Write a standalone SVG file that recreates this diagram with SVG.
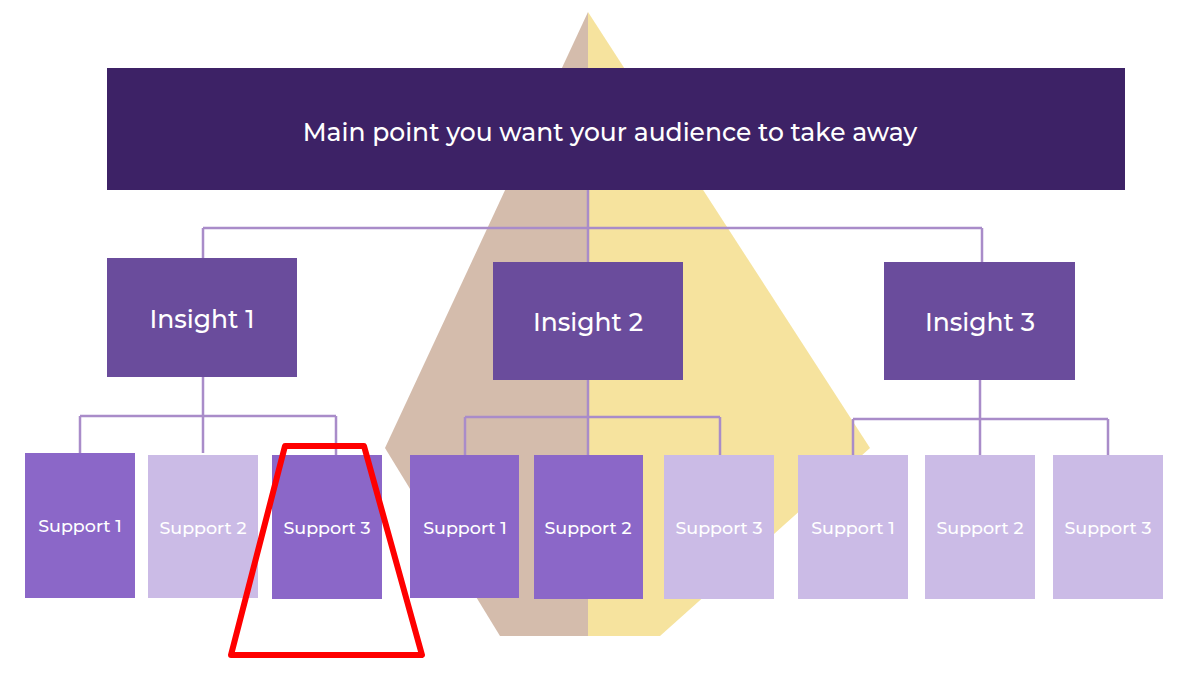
<svg xmlns="http://www.w3.org/2000/svg" width="1200" height="675" viewBox="0 0 1200 675">
<style>
text{font-family:"Montserrat","Open Sans","Liberation Sans",sans-serif;fill:#fff;text-anchor:middle;dominant-baseline:central;font-weight:500}
.main{font-size:25px}.ins{font-size:25px}.sup{font-size:17.5px}
.c{stroke:#a98cc9;stroke-width:2.5;fill:none}
.dark{fill:#8b67c8}.light{fill:#cbbbe6}.insb{fill:#6a4c9c}
</style>
<rect width="1200" height="675" fill="#fff"/>
<g id="pyramid">
<polygon points="588,12 385,448 500,636 588,636" fill="#d4bcac"/>
<polygon points="588,12 870,448 660,636 588,636" fill="#f6e39e"/>
</g>
<g id="connectors">
<path class="c" d="M588 190V262M203 228H982M203 228V258M982 228V262"/>
<path class="c" d="M203 377V453M80 416H336M80 416V455M336 416V455"/>
<path class="c" d="M588 380V455M465 417H720M465 417V455M720 417V455"/>
<path class="c" d="M980 380V455M853 419H1108M853 419V455M1108 419V455"/>
</g>
<g id="main"><rect x="107" y="68" width="1018" height="122" fill="#3d2266"/><text class="main" x="610" y="132">Main point you want your audience to take away</text></g>
<g id="insight1"><rect class="insb" x="107" y="258" width="190" height="119"/><text class="ins" x="202" y="319">Insight 1</text></g>
<g id="insight2"><rect class="insb" x="493" y="262" width="190" height="118"/><text class="ins" x="588" y="322">Insight 2</text></g>
<g id="insight3"><rect class="insb" x="884" y="262" width="191" height="118"/><text class="ins" x="980" y="322">Insight 3</text></g>
<g id="s1a"><rect class="dark" x="25" y="453" width="110" height="145"/><text class="sup" x="80" y="525">Support 1</text></g>
<g id="s1b"><rect class="light" x="148" y="455" width="110" height="143"/><text class="sup" x="203" y="527">Support 2</text></g>
<g id="s1c"><rect class="dark" x="272" y="455" width="110" height="144"/><text class="sup" x="327" y="527">Support 3</text></g>
<g id="s2a"><rect class="dark" x="410" y="455" width="109" height="143"/><text class="sup" x="465" y="527">Support 1</text></g>
<g id="s2b"><rect class="dark" x="534" y="455" width="109" height="144"/><text class="sup" x="588" y="527">Support 2</text></g>
<g id="s2c"><rect class="light" x="664" y="455" width="110" height="144"/><text class="sup" x="719" y="527">Support 3</text></g>
<g id="s3a"><rect class="light" x="798" y="455" width="110" height="144"/><text class="sup" x="853" y="527">Support 1</text></g>
<g id="s3b"><rect class="light" x="925" y="455" width="110" height="144"/><text class="sup" x="980" y="527">Support 2</text></g>
<g id="s3c"><rect class="light" x="1053" y="455" width="110" height="144"/><text class="sup" x="1108" y="527">Support 3</text></g>
<g id="highlight"><polygon points="285,446 364,446 422,655 231,655" fill="none" stroke="#f00" stroke-width="6" stroke-linejoin="round"/></g>
</svg>
